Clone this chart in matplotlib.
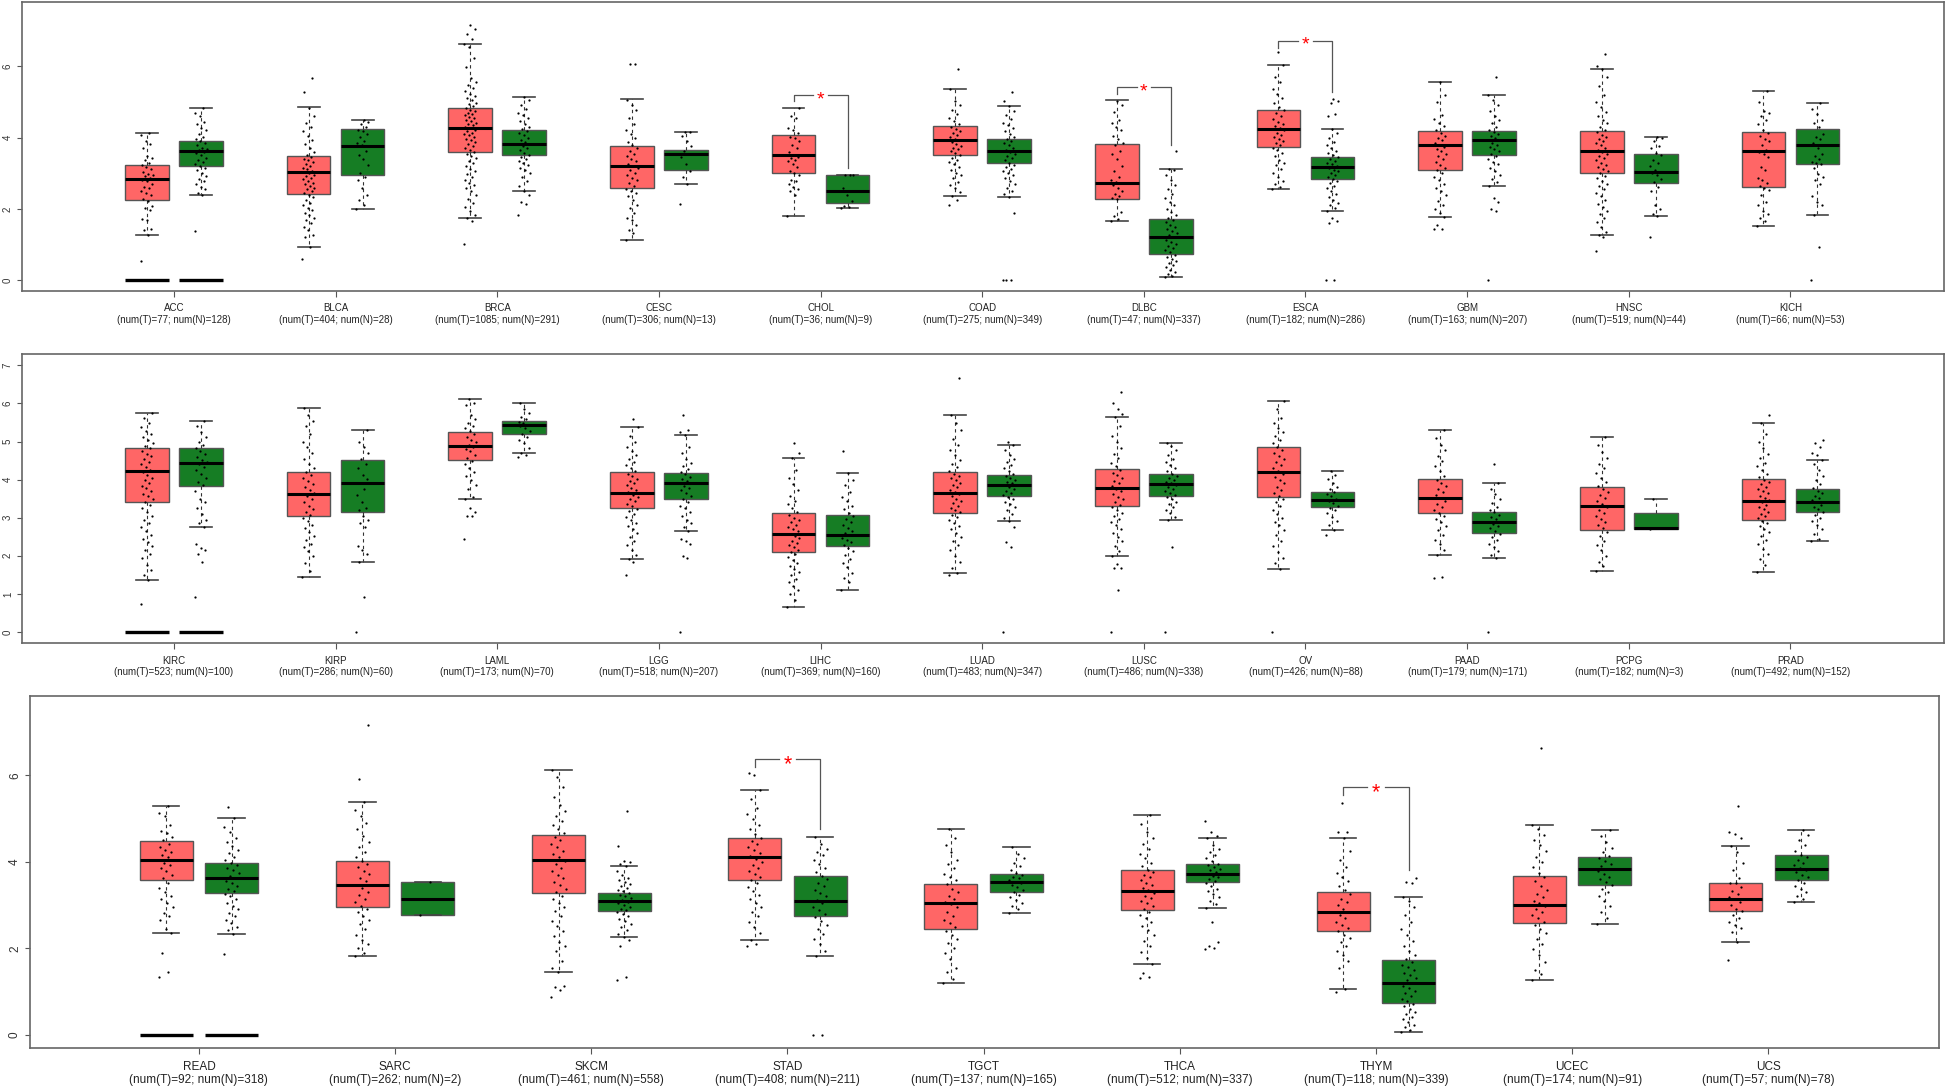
import matplotlib
matplotlib.use("Agg")
import matplotlib.pyplot as plt

plt.rcParams["font.family"] = ["Liberation Sans", "DejaVu Sans"]

# --- panel 1 ---
p1_names = ["ACC", "BLCA", "BRCA", "CESC", "CHOL", "COAD", "DLBC", "ESCA", "GBM", "HNSC", "KICH"]
p1_num_t = [77, 404, 1085, 306, 36, 275, 47, 182, 163, 519, 66]
p1_num_n = [128, 28, 291, 13, 9, 349, 337, 286, 207, 44, 53]
# low whisker, q1, median, q3, high whisker
p1_stats_t = [[1.26, 2.25, 2.84, 3.24, 4.14], [0.94, 2.42, 3.03, 3.47, 4.85], [1.76, 3.59, 4.26, 4.82, 6.63],
              [1.13, 2.59, 3.20, 3.76, 5.08], [1.80, 3.01, 3.50, 4.08, 4.83], [2.35, 3.50, 3.93, 4.33, 5.37],
              [1.67, 2.29, 2.72, 3.81, 5.06], [2.55, 3.74, 4.23, 4.78, 6.04], [1.78, 3.10, 3.79, 4.18, 5.55],
              [1.28, 3.00, 3.61, 4.19, 5.92], [1.51, 2.61, 3.63, 4.16, 5.30]]
p1_stats_n = [[2.39, 3.19, 3.62, 3.90, 4.84], [2.00, 2.96, 3.77, 4.23, 4.50], [2.49, 3.50, 3.82, 4.22, 5.14],
              [2.70, 3.10, 3.54, 3.64, 4.17], [2.03, 2.16, 2.49, 2.95, 2.96], [2.33, 3.30, 3.62, 3.95, 4.89],
              [0.08, 0.74, 1.21, 1.72, 3.12], [1.94, 2.84, 3.17, 3.45, 4.23], [2.65, 3.50, 3.93, 4.19, 5.18],
              [1.79, 2.73, 3.04, 3.54, 4.02], [1.84, 3.25, 3.80, 4.23, 4.98]]
p1_pts_t = {
    "ACC": [0.54, 1.26, 1.42, 1.45, 1.68, 1.72, 1.98, 2.02, 2.08, 2.21, 2.27, 2.38, 2.45, 2.5, 2.58, 2.62, 2.71, 2.78, 2.82, 2.86, 2.91, 2.95, 2.99, 3.04, 3.12, 3.18, 3.22, 3.3, 3.38, 3.44, 3.49, 3.72, 3.83, 3.9, 4.08, 4.12],
    "BLCA": [0.59, 0.94, 1.2, 1.28, 1.42, 1.5, 1.6, 1.68, 1.75, 1.82, 1.9, 1.98, 2.03, 2.1, 2.18, 2.26, 2.33, 2.4, 2.44, 2.5, 2.55, 2.6, 2.64, 2.7, 2.74, 2.79, 2.84, 2.88, 2.92, 2.96, 3.0, 3.03, 3.07, 3.11, 3.16, 3.21, 3.26, 3.31, 3.36, 3.41, 3.46, 3.52, 3.6, 3.72, 3.82, 3.92, 4.05, 4.18, 4.3, 4.42, 4.6, 4.84, 5.28, 5.67],
    "BRCA": [1.03, 1.65, 1.76, 1.82, 1.95, 2.05, 2.18, 2.28, 2.4, 2.5, 2.58, 2.66, 2.74, 2.82, 2.9, 2.98, 3.05, 3.12, 3.2, 3.28, 3.35, 3.42, 3.48, 3.54, 3.6, 3.66, 3.72, 3.77, 3.82, 3.87, 3.92, 3.97, 4.02, 4.06, 4.1, 4.14, 4.18, 4.22, 4.26, 4.3, 4.34, 4.38, 4.42, 4.46, 4.5, 4.54, 4.58, 4.62, 4.66, 4.7, 4.74, 4.78, 4.83, 4.88, 4.93, 4.98, 5.04, 5.1, 5.16, 5.22, 5.3, 5.38, 5.46, 5.55, 5.68, 5.98, 6.22, 6.55, 6.63, 6.75, 6.9, 7.05, 7.15],
    "CESC": [1.13, 1.32, 1.42, 1.55, 1.68, 1.75, 1.9, 2.02, 2.12, 2.25, 2.36, 2.44, 2.5, 2.56, 2.64, 2.72, 2.8, 2.88, 2.95, 3.02, 3.08, 3.14, 3.2, 3.26, 3.33, 3.4, 3.48, 3.55, 3.62, 3.7, 3.78, 3.88, 3.98, 4.1, 4.22, 4.38, 4.56, 4.78, 4.92, 5.06, 6.05, 6.07],
    "CHOL": [1.8, 2.4, 2.5, 2.56, 2.62, 2.7, 2.78, 2.82, 2.95, 3.0, 3.06, 3.17, 3.26, 3.34, 3.38, 3.42, 3.45, 3.52, 3.6, 3.72, 3.8, 3.9, 4.0, 4.03, 4.12, 4.22, 4.28, 4.55, 4.6, 4.83],
    "COAD": [2.12, 2.25, 2.35, 2.48, 2.6, 2.68, 2.76, 2.86, 2.94, 3.02, 3.1, 3.18, 3.26, 3.32, 3.38, 3.44, 3.5, 3.56, 3.62, 3.67, 3.72, 3.77, 3.82, 3.87, 3.92, 3.97, 4.02, 4.07, 4.12, 4.18, 4.24, 4.3, 4.38, 4.46, 4.55, 4.66, 4.78, 4.9, 5.02, 5.37, 5.93],
    "DLBC": [1.67, 1.72, 1.8, 1.92, 2.28, 2.32, 2.36, 2.42, 2.5, 2.6, 2.68, 2.72, 2.76, 2.8, 2.9, 3.05, 3.2, 3.4, 3.55, 3.62, 3.78, 3.85, 3.95, 4.05, 4.2, 4.3, 4.42, 4.5, 4.72, 4.9, 5.03],
    "ESCA": [2.55, 2.62, 2.7, 2.78, 2.9, 3.0, 3.12, 3.22, 3.3, 3.38, 3.48, 3.56, 3.64, 3.72, 3.78, 3.84, 3.9, 3.96, 4.02, 4.08, 4.14, 4.2, 4.26, 4.32, 4.38, 4.44, 4.52, 4.6, 4.68, 4.76, 4.86, 4.96, 5.1, 5.22, 5.36, 5.56, 5.7, 6.04, 6.4],
    "GBM": [1.45, 1.45, 1.55, 1.78, 1.9, 2.0, 2.1, 2.22, 2.4, 2.5, 2.58, 2.7, 2.8, 2.9, 3.0, 3.08, 3.16, 3.24, 3.32, 3.4, 3.48, 3.55, 3.62, 3.68, 3.74, 3.8, 3.86, 3.92, 3.98, 4.04, 4.12, 4.2, 4.32, 4.42, 4.52, 4.62, 5.0, 5.2, 5.55],
    "HNSC": [0.82, 1.2, 1.28, 1.35, 1.5, 1.62, 1.75, 1.85, 1.95, 2.05, 2.15, 2.25, 2.35, 2.45, 2.55, 2.63, 2.71, 2.79, 2.86, 2.93, 3.0, 3.06, 3.12, 3.18, 3.24, 3.3, 3.36, 3.42, 3.48, 3.54, 3.6, 3.66, 3.72, 3.78, 3.84, 3.9, 3.96, 4.02, 4.08, 4.15, 4.22, 4.3, 4.4, 4.5, 4.6, 4.72, 4.85, 5.0, 5.2, 5.45, 5.7, 5.92, 6.0, 6.34],
    "KICH": [1.51, 1.65, 1.75, 1.85, 1.95, 2.1, 2.2, 2.4, 2.52, 2.6, 2.65, 2.72, 2.8, 2.88, 3.1, 3.18, 3.45, 3.55, 3.6, 3.66, 3.8, 3.9, 3.97, 4.05, 4.12, 4.22, 4.38, 4.5, 4.6, 4.68, 4.75, 5.0, 5.3],
}
p1_pts_n = {
    "ACC": [1.37, 2.39, 2.45, 2.55, 2.62, 2.7, 2.78, 2.85, 2.92, 3.0, 3.08, 3.15, 3.2, 3.26, 3.32, 3.38, 3.44, 3.5, 3.56, 3.6, 3.64, 3.68, 3.72, 3.78, 3.84, 3.9, 3.95, 4.02, 4.1, 4.2, 4.28, 4.38, 4.45, 4.6, 4.7, 4.84],
    "BLCA": [2.0, 2.12, 2.25, 2.4, 2.6, 2.8, 2.9, 3.02, 3.24, 3.4, 3.5, 3.62, 3.78, 3.85, 3.9, 4.02, 4.1, 4.18, 4.22, 4.3, 4.38, 4.44, 4.48],
    "BRCA": [1.82, 2.15, 2.2, 2.4, 2.49, 2.65, 2.78, 2.9, 3.0, 3.08, 3.15, 3.22, 3.28, 3.34, 3.4, 3.46, 3.52, 3.58, 3.64, 3.7, 3.76, 3.82, 3.88, 3.94, 4.0, 4.06, 4.12, 4.18, 4.24, 4.3, 4.38, 4.46, 4.54, 4.62, 4.7, 4.8, 4.92, 5.04, 5.14],
    "CESC": [2.14, 2.7, 2.9, 3.05, 3.27, 3.45, 3.55, 3.62, 3.75, 3.9, 4.05, 4.15, 4.17],
    "CHOL": [2.03, 2.05, 2.08, 2.22, 2.4, 2.58, 2.95, 2.96, 2.96],
    "COAD": [0.0, 0.0, 0.0, 1.88, 2.33, 2.42, 2.5, 2.6, 2.7, 2.78, 2.86, 2.94, 3.0, 3.06, 3.12, 3.18, 3.24, 3.3, 3.36, 3.42, 3.48, 3.54, 3.6, 3.66, 3.72, 3.78, 3.84, 3.9, 3.96, 4.02, 4.1, 4.18, 4.26, 4.34, 4.42, 4.52, 4.62, 4.75, 4.89, 5.03, 5.28],
    "DLBC": [0.08, 0.12, 0.18, 0.24, 0.3, 0.36, 0.42, 0.48, 0.54, 0.6, 0.66, 0.72, 0.78, 0.84, 0.9, 0.96, 1.02, 1.08, 1.14, 1.2, 1.26, 1.32, 1.38, 1.44, 1.5, 1.56, 1.62, 1.68, 1.76, 1.84, 1.92, 2.0, 2.1, 2.2, 2.3, 2.42, 2.55, 2.66, 2.8, 2.95, 3.1, 3.12, 3.62],
    "ESCA": [0.0, 0.0, 1.6, 1.65, 1.75, 1.94, 2.02, 2.1, 2.18, 2.26, 2.34, 2.42, 2.5, 2.58, 2.65, 2.72, 2.78, 2.84, 2.9, 2.95, 3.0, 3.05, 3.1, 3.15, 3.2, 3.25, 3.3, 3.35, 3.4, 3.45, 3.5, 3.56, 3.62, 3.7, 3.78, 3.88, 4.0, 4.12, 4.23, 4.6, 4.65, 4.98, 5.03, 5.08],
    "GBM": [0.0, 1.95, 2.0, 2.2, 2.3, 2.65, 2.75, 2.85, 2.95, 3.05, 3.15, 3.25, 3.32, 3.4, 3.48, 3.55, 3.62, 3.68, 3.74, 3.8, 3.86, 3.92, 3.98, 4.04, 4.1, 4.16, 4.22, 4.3, 4.4, 4.5, 4.6, 4.75, 4.9, 5.05, 5.18, 5.7],
    "HNSC": [1.22, 1.79, 1.85, 2.0, 2.1, 2.5, 2.62, 2.75, 2.85, 2.96, 3.0, 3.04, 3.1, 3.2, 3.3, 3.38, 3.5, 3.58, 3.72, 3.76, 3.9, 4.0, 4.02],
    "KICH": [0.0, 0.92, 1.84, 2.1, 2.2, 2.35, 2.7, 2.8, 2.9, 2.98, 3.15, 3.25, 3.28, 3.32, 3.4, 3.48, 3.55, 3.7, 3.85, 3.95, 4.02, 4.1, 4.3, 4.4, 4.5, 4.65, 4.8, 4.98],
}

# --- panel 2 ---
p2_names = ["KIRC", "KIRP", "LAML", "LGG", "LIHC", "LUAD", "LUSC", "OV", "PAAD", "PCPG", "PRAD"]
p2_num_t = [523, 286, 173, 518, 369, 483, 486, 426, 179, 182, 492]
p2_num_n = [100, 60, 70, 207, 160, 347, 338, 88, 171, 3, 152]
p2_stats_t = [[1.36, 3.42, 4.22, 4.82, 5.76], [1.44, 3.05, 3.62, 4.21, 5.87], [3.48, 4.52, 4.89, 5.26, 6.11],
              [1.92, 3.26, 3.65, 4.19, 5.38], [0.66, 2.09, 2.57, 3.12, 4.58], [1.56, 3.12, 3.65, 4.19, 5.70],
              [2.00, 3.30, 3.79, 4.27, 5.65], [1.66, 3.54, 4.20, 4.85, 6.06], [2.01, 3.12, 3.52, 4.02, 5.30],
              [1.59, 2.69, 3.30, 3.80, 5.13], [1.58, 2.94, 3.43, 4.03, 5.50]]
p2_stats_n = [[2.76, 3.84, 4.45, 4.83, 5.54], [1.84, 3.16, 3.90, 4.51, 5.31], [4.69, 5.19, 5.43, 5.55, 6.02],
              [2.65, 3.50, 3.92, 4.18, 5.17], [1.10, 2.26, 2.55, 3.07, 4.18], [2.91, 3.58, 3.86, 4.13, 4.90],
              [2.93, 3.58, 3.88, 4.14, 4.96], [2.67, 3.27, 3.47, 3.68, 4.24], [1.93, 2.60, 2.88, 3.16, 3.91],
              [2.70, 2.70, 2.72, 3.12, 3.50], [2.39, 3.15, 3.42, 3.76, 4.52]]
p2_pts_t = {
    "KIRC": [0.74, 1.36, 1.5, 1.62, 1.75, 1.95, 2.05, 2.15, 2.25, 2.35, 2.45, 2.55, 2.65, 2.75, 2.85, 2.95, 3.05, 3.15, 3.25, 3.33, 3.41, 3.49, 3.56, 3.63, 3.7, 3.77, 3.84, 3.91, 3.98, 4.05, 4.12, 4.19, 4.26, 4.33, 4.4, 4.47, 4.54, 4.61, 4.68, 4.75, 4.82, 4.89, 4.96, 5.04, 5.12, 5.2, 5.28, 5.38, 5.5, 5.62, 5.76],
    "KIRP": [1.44, 1.6, 1.82, 2.0, 2.12, 2.22, 2.32, 2.42, 2.52, 2.62, 2.72, 2.82, 2.92, 3.0, 3.08, 3.16, 3.24, 3.32, 3.4, 3.48, 3.56, 3.64, 3.72, 3.8, 3.88, 3.96, 4.04, 4.12, 4.2, 4.3, 4.42, 4.55, 4.7, 4.85, 5.0, 5.2, 5.4, 5.55, 5.7, 5.87],
    "LAML": [2.45, 3.05, 3.05, 3.15, 3.25, 3.48, 3.55, 3.75, 3.85, 4.0, 4.1, 4.2, 4.3, 4.4, 4.5, 4.58, 4.66, 4.74, 4.8, 4.86, 4.92, 4.98, 5.05, 5.12, 5.2, 5.28, 5.35, 5.42, 5.5, 5.58, 5.7, 5.95, 6.0, 6.11],
    "LGG": [1.5, 1.85, 1.92, 2.02, 2.15, 2.28, 2.4, 2.5, 2.6, 2.7, 2.78, 2.86, 2.94, 3.02, 3.1, 3.17, 3.24, 3.31, 3.37, 3.43, 3.49, 3.55, 3.61, 3.67, 3.73, 3.79, 3.85, 3.91, 3.97, 4.03, 4.09, 4.15, 4.22, 4.3, 4.38, 4.46, 4.55, 4.65, 4.75, 4.85, 5.0, 5.15, 5.38, 5.6],
    "LIHC": [0.66, 0.85, 1.0, 1.1, 1.2, 1.3, 1.4, 1.5, 1.58, 1.66, 1.74, 1.82, 1.9, 1.97, 2.04, 2.1, 2.16, 2.22, 2.28, 2.34, 2.4, 2.46, 2.52, 2.58, 2.64, 2.7, 2.76, 2.82, 2.88, 2.94, 3.0, 3.08, 3.16, 3.25, 3.35, 3.45, 3.58, 3.72, 3.88, 4.05, 4.25, 4.58, 4.7, 4.95],
    "LUAD": [1.5, 1.56, 1.68, 1.85, 2.0, 2.15, 2.28, 2.4, 2.5, 2.6, 2.7, 2.78, 2.86, 2.94, 3.02, 3.08, 3.14, 3.2, 3.26, 3.32, 3.38, 3.44, 3.5, 3.56, 3.62, 3.68, 3.74, 3.8, 3.86, 3.92, 3.98, 4.04, 4.1, 4.16, 4.24, 4.32, 4.42, 4.52, 4.64, 4.78, 4.92, 5.08, 5.3, 5.5, 5.7, 6.68],
    "LUSC": [0.0, 1.11, 1.67, 1.67, 1.78, 2.0, 2.12, 2.25, 2.38, 2.5, 2.6, 2.7, 2.8, 2.88, 2.96, 3.04, 3.12, 3.2, 3.27, 3.34, 3.41, 3.48, 3.55, 3.62, 3.69, 3.76, 3.83, 3.9, 3.97, 4.04, 4.11, 4.18, 4.26, 4.35, 4.45, 4.56, 4.68, 4.82, 4.98, 5.15, 5.4, 5.65, 5.72, 5.85, 6.0, 6.3],
    "OV": [0.0, 1.66, 1.8, 1.95, 2.1, 2.25, 2.4, 2.55, 2.68, 2.8, 2.9, 3.0, 3.1, 3.2, 3.3, 3.4, 3.5, 3.58, 3.66, 3.74, 3.82, 3.9, 3.98, 4.06, 4.14, 4.22, 4.3, 4.38, 4.46, 4.54, 4.62, 4.7, 4.78, 4.86, 4.95, 5.05, 5.15, 5.25, 5.35, 5.5, 5.62, 5.85, 6.06],
    "PAAD": [1.41, 1.44, 2.01, 2.15, 2.3, 2.42, 2.55, 2.68, 2.78, 2.88, 2.96, 3.04, 3.12, 3.2, 3.28, 3.36, 3.44, 3.52, 3.6, 3.68, 3.76, 3.84, 3.92, 4.0, 4.1, 4.22, 4.35, 4.5, 4.62, 4.78, 4.92, 5.1, 5.3],
    "PCPG": [1.59, 1.72, 1.85, 2.0, 2.15, 2.28, 2.4, 2.52, 2.62, 2.72, 2.8, 2.88, 2.96, 3.04, 3.12, 3.2, 3.28, 3.36, 3.44, 3.52, 3.6, 3.68, 3.76, 3.84, 3.95, 4.05, 4.18, 4.3, 4.42, 4.58, 4.72, 4.9, 5.13],
    "PRAD": [1.58, 1.75, 1.92, 2.05, 2.18, 2.3, 2.42, 2.52, 2.62, 2.7, 2.78, 2.85, 2.92, 2.98, 3.04, 3.1, 3.16, 3.22, 3.28, 3.34, 3.4, 3.46, 3.52, 3.58, 3.64, 3.7, 3.76, 3.82, 3.88, 3.94, 4.0, 4.08, 4.16, 4.25, 4.35, 4.45, 4.56, 4.68, 4.82, 5.0, 5.2, 5.5, 5.7],
}
p2_pts_n = {
    "KIRC": [0.92, 1.85, 2.05, 2.15, 2.2, 2.3, 2.76, 2.85, 2.95, 3.1, 3.25, 3.4, 3.5, 3.7, 3.85, 3.95, 4.05, 4.15, 4.25, 4.32, 4.4, 4.46, 4.52, 4.6, 4.68, 4.75, 4.82, 4.9, 5.0, 5.12, 5.25, 5.4, 5.54],
    "KIRP": [0.0, 0.92, 1.84, 2.05, 2.15, 2.25, 2.75, 2.85, 2.95, 3.05, 3.2, 3.25, 3.4, 3.6, 3.75, 3.9, 4.02, 4.12, 4.3, 4.42, 4.55, 4.7, 4.85, 5.0, 5.31],
    "LAML": [4.6, 4.65, 4.69, 4.82, 4.95, 5.05, 5.12, 5.2, 5.28, 5.35, 5.4, 5.44, 5.48, 5.52, 5.58, 5.65, 5.75, 5.85, 6.02],
    "LGG": [0.0, 1.95, 2.0, 2.3, 2.4, 2.45, 2.65, 2.75, 2.85, 2.95, 3.05, 3.15, 3.25, 3.32, 3.4, 3.48, 3.56, 3.64, 3.72, 3.78, 3.84, 3.9, 3.96, 4.02, 4.08, 4.14, 4.2, 4.28, 4.36, 4.45, 4.55, 4.7, 4.85, 5.17, 5.25, 5.3, 5.7],
    "LIHC": [1.1, 1.3, 1.42, 1.55, 1.7, 1.8, 1.92, 2.02, 2.12, 2.2, 2.28, 2.35, 2.42, 2.48, 2.54, 2.6, 2.66, 2.72, 2.8, 2.88, 2.96, 3.04, 3.12, 3.22, 3.32, 3.45, 3.55, 3.68, 3.85, 4.0, 4.18, 4.74],
    "LUAD": [0.0, 2.24, 2.37, 2.75, 2.91, 3.0, 3.1, 3.2, 3.28, 3.35, 3.42, 3.48, 3.54, 3.6, 3.65, 3.7, 3.75, 3.8, 3.85, 3.9, 3.95, 4.0, 4.05, 4.1, 4.16, 4.22, 4.3, 4.38, 4.46, 4.55, 4.65, 4.78, 4.9, 5.0],
    "LUSC": [0.0, 2.23, 2.93, 3.02, 3.12, 3.2, 3.28, 3.35, 3.42, 3.48, 3.54, 3.6, 3.65, 3.7, 3.75, 3.8, 3.85, 3.9, 3.95, 4.0, 4.05, 4.1, 4.16, 4.22, 4.3, 4.38, 4.46, 4.55, 4.65, 4.78, 4.88, 4.96],
    "OV": [2.55, 2.67, 2.8, 2.92, 3.02, 3.12, 3.2, 3.26, 3.32, 3.38, 3.44, 3.5, 3.56, 3.62, 3.68, 3.75, 3.82, 3.92, 4.02, 4.12, 4.24],
    "PAAD": [0.0, 1.93, 2.02, 2.12, 2.22, 2.32, 2.42, 2.5, 2.58, 2.65, 2.72, 2.78, 2.84, 2.9, 2.96, 3.02, 3.08, 3.14, 3.2, 3.28, 3.38, 3.5, 3.62, 3.75, 3.91, 4.41],
    "PCPG": [2.7, 2.72, 3.5],
    "PRAD": [2.39, 2.45, 2.58, 2.7, 2.82, 2.92, 3.0, 3.08, 3.15, 3.22, 3.28, 3.34, 3.4, 3.46, 3.52, 3.58, 3.64, 3.7, 3.78, 3.88, 3.98, 4.1, 4.25, 4.4, 4.52, 4.65, 4.7, 4.85, 4.95, 5.05],
}

# --- panel 3 ---
p3_names = ["READ", "SARC", "SKCM", "STAD", "TGCT", "THCA", "THYM", "UCEC", "UCS"]
p3_num_t = [92, 262, 461, 408, 137, 512, 118, 174, 57]
p3_num_n = [318, 2, 558, 211, 165, 337, 339, 91, 78]
p3_stats_t = [[2.36, 3.59, 4.04, 4.48, 5.29], [1.82, 2.96, 3.47, 4.02, 5.39], [1.45, 3.27, 4.04, 4.62, 6.11],
              [2.19, 3.59, 4.12, 4.54, 5.66], [1.20, 2.44, 3.04, 3.49, 4.75], [1.64, 2.89, 3.33, 3.80, 5.08],
              [1.07, 2.41, 2.85, 3.30, 4.55], [1.26, 2.59, 3.00, 3.67, 4.85], [2.15, 2.87, 3.13, 3.52, 4.37]]
p3_stats_n = [[2.33, 3.27, 3.62, 3.98, 5.02], [2.77, 2.77, 3.15, 3.54, 3.54], [2.26, 2.87, 3.09, 3.29, 3.91],
              [1.83, 2.76, 3.10, 3.67, 4.58], [2.82, 3.30, 3.53, 3.73, 4.34], [2.94, 3.54, 3.72, 3.96, 4.56],
              [0.07, 0.75, 1.21, 1.73, 3.18], [2.56, 3.47, 3.84, 4.12, 4.73], [3.07, 3.58, 3.84, 4.16, 4.73]]
p3_pts_t = {
    "READ": [1.35, 1.46, 1.9, 2.36, 2.45, 2.65, 2.75, 2.82, 2.95, 3.05, 3.15, 3.22, 3.3, 3.4, 3.52, 3.62, 3.7, 3.78, 3.85, 3.92, 3.98, 4.04, 4.1, 4.16, 4.22, 4.28, 4.35, 4.42, 4.5, 4.58, 4.66, 4.72, 4.85, 5.05, 5.12, 5.29],
    "SARC": [1.82, 1.9, 2.0, 2.1, 2.2, 2.32, 2.45, 2.56, 2.66, 2.75, 2.83, 2.91, 2.99, 3.07, 3.15, 3.23, 3.31, 3.39, 3.47, 3.55, 3.63, 3.71, 3.79, 3.87, 3.95, 4.03, 4.12, 4.22, 4.34, 4.46, 4.6, 4.75, 4.9, 5.05, 5.2, 5.39, 5.91, 7.17],
    "SKCM": [0.88, 1.05, 1.12, 1.13, 1.45, 1.55, 1.7, 1.95, 2.05, 2.15, 2.28, 2.4, 2.52, 2.64, 2.76, 2.86, 2.96, 3.05, 3.14, 3.22, 3.3, 3.38, 3.46, 3.54, 3.62, 3.7, 3.78, 3.86, 3.94, 4.02, 4.1, 4.18, 4.26, 4.34, 4.42, 4.5, 4.58, 4.66, 4.75, 4.85, 4.95, 5.05, 5.18, 5.32, 5.5, 5.72, 5.95, 6.11],
    "STAD": [2.05, 2.1, 2.19, 2.35, 2.5, 2.62, 2.74, 2.85, 2.95, 3.05, 3.15, 3.24, 3.33, 3.42, 3.5, 3.57, 3.64, 3.71, 3.78, 3.85, 3.92, 3.99, 4.06, 4.13, 4.2, 4.27, 4.34, 4.41, 4.48, 4.56, 4.65, 4.75, 4.85, 4.98, 5.1, 5.25, 5.45, 5.66, 6.0, 6.05],
    "TGCT": [1.2, 1.3, 1.45, 1.55, 1.75, 1.9, 2.0, 2.12, 2.22, 2.3, 2.4, 2.5, 2.58, 2.65, 2.75, 2.85, 2.95, 3.02, 3.08, 3.15, 3.22, 3.3, 3.38, 3.48, 3.58, 3.65, 3.72, 3.85, 3.95, 4.05, 4.22, 4.38, 4.55, 4.75],
    "THCA": [1.32, 1.35, 1.43, 1.64, 1.78, 1.92, 2.05, 2.18, 2.3, 2.42, 2.52, 2.62, 2.7, 2.78, 2.85, 2.92, 2.98, 3.04, 3.1, 3.16, 3.22, 3.28, 3.34, 3.4, 3.46, 3.52, 3.58, 3.64, 3.7, 3.76, 3.82, 3.9, 3.98, 4.08, 4.18, 4.3, 4.42, 4.55, 4.7, 4.88, 5.08],
    "THYM": [1.0, 1.07, 1.55, 1.7, 1.85, 1.95, 2.05, 2.15, 2.25, 2.32, 2.4, 2.48, 2.55, 2.62, 2.7, 2.78, 2.85, 2.92, 3.0, 3.08, 3.15, 3.25, 3.35, 3.45, 3.55, 3.65, 3.75, 3.88, 4.05, 4.25, 4.55, 4.68, 4.7, 5.37],
    "UCEC": [1.26, 1.4, 1.5, 1.68, 1.85, 1.98, 2.1, 2.22, 2.35, 2.45, 2.55, 2.62, 2.7, 2.78, 2.85, 2.92, 2.98, 3.04, 3.1, 3.18, 3.26, 3.35, 3.45, 3.55, 3.66, 3.75, 3.88, 4.0, 4.12, 4.25, 4.38, 4.5, 4.62, 4.75, 4.85, 6.63],
    "UCS": [1.74, 2.15, 2.38, 2.48, 2.55, 2.62, 2.7, 2.78, 2.86, 2.92, 3.0, 3.08, 3.13, 3.18, 3.25, 3.32, 3.42, 3.5, 3.52, 3.62, 3.8, 3.98, 4.22, 4.37, 4.55, 4.65, 4.7, 5.3],
}
p3_pts_n = {
    "READ": [1.88, 2.33, 2.42, 2.5, 2.58, 2.66, 2.74, 2.82, 2.9, 2.98, 3.06, 3.14, 3.2, 3.26, 3.32, 3.38, 3.44, 3.5, 3.56, 3.62, 3.68, 3.74, 3.8, 3.86, 3.92, 3.98, 4.05, 4.12, 4.2, 4.28, 4.36, 4.45, 4.55, 4.68, 4.8, 5.02, 5.27],
    "SARC": [2.77, 3.54],
    "SKCM": [1.27, 1.33, 2.05, 2.2, 2.26, 2.34, 2.42, 2.5, 2.57, 2.63, 2.69, 2.74, 2.79, 2.84, 2.88, 2.92, 2.96, 3.0, 3.04, 3.08, 3.12, 3.16, 3.2, 3.24, 3.28, 3.32, 3.36, 3.4, 3.44, 3.48, 3.53, 3.58, 3.63, 3.7, 3.78, 3.91, 3.95, 4.0, 4.03, 4.36, 5.17],
    "STAD": [0.0, 0.0, 1.83, 1.95, 2.1, 2.22, 2.34, 2.45, 2.55, 2.64, 2.72, 2.8, 2.88, 2.96, 3.04, 3.12, 3.2, 3.28, 3.36, 3.44, 3.52, 3.6, 3.68, 3.76, 3.85, 3.95, 4.05, 4.15, 4.22, 4.3, 4.42, 4.58],
    "TGCT": [2.82, 2.9, 2.98, 3.05, 3.12, 3.18, 3.24, 3.3, 3.36, 3.42, 3.46, 3.5, 3.54, 3.58, 3.62, 3.66, 3.7, 3.75, 3.82, 3.9, 3.98, 4.08, 4.18, 4.34],
    "THCA": [1.98, 2.0, 2.05, 2.15, 2.6, 2.94, 3.02, 3.1, 3.18, 3.26, 3.32, 3.38, 3.44, 3.5, 3.56, 3.6, 3.64, 3.68, 3.72, 3.76, 3.8, 3.84, 3.88, 3.92, 3.96, 4.02, 4.08, 4.15, 4.22, 4.3, 4.4, 4.56, 4.6, 4.7, 4.95],
    "THYM": [0.07, 0.12, 0.18, 0.24, 0.3, 0.36, 0.42, 0.48, 0.54, 0.6, 0.66, 0.72, 0.78, 0.84, 0.9, 0.96, 1.02, 1.08, 1.14, 1.2, 1.26, 1.32, 1.38, 1.44, 1.5, 1.56, 1.62, 1.68, 1.75, 1.84, 1.94, 2.05, 2.18, 2.3, 2.45, 2.6, 2.78, 2.95, 3.1, 3.18, 3.5, 3.53, 3.63],
    "UCEC": [2.56, 2.7, 2.85, 2.98, 3.1, 3.2, 3.3, 3.38, 3.46, 3.54, 3.6, 3.66, 3.72, 3.78, 3.84, 3.9, 3.96, 4.02, 4.08, 4.14, 4.22, 4.32, 4.45, 4.6, 4.73],
    "UCS": [3.07, 3.15, 3.22, 3.3, 3.38, 3.45, 3.52, 3.58, 3.64, 3.7, 3.76, 3.82, 3.86, 3.92, 3.98, 4.04, 4.1, 4.16, 4.25, 4.38, 4.5, 4.62, 4.73],
}

# flat boxes sitting on zero
zero_boxes = {0: ["ACC"], 1: ["KIRC"], 2: ["READ"]}
# bracket: name, top, left leg end, right leg end
brackets = {0: [("CHOL", 5.19, 5.02, 3.14), ("DLBC", 5.41, 5.22, 3.80), ("ESCA", 6.72, 6.52, 5.27)],
            1: [],
            2: [("STAD", 6.38, 6.20, 4.75), ("THYM", 5.72, 5.54, 3.82)]}

RED = "#ff6666"
GREEN = "#167d24"
W, H = 1946, 1092


def draw_panel(idx, rect, xlim, ylim, yticks, names, num_t, num_n, stats_t, stats_n, pts_t, pts_n, fs):
    l, t, r, b = rect
    ax = fig.add_axes([l / W, 1 - b / H, (r - l) / W, (b - t) / H])
    off, wid, cap, jit = 0.167, 0.27, 0.135, 0.038

    for side, stats, pts, color in [(-1, stats_t, pts_t, RED), (1, stats_n, pts_n, GREEN)]:
        boxes = [{"whislo": s[0], "q1": s[1], "med": s[2], "q3": s[3], "whishi": s[4], "fliers": []} for s in stats]
        pos = [i + side * off for i in range(len(names))]
        ax.bxp(boxes, positions=pos, widths=wid, capwidths=cap, patch_artist=True, showfliers=False,
               boxprops=dict(facecolor=color, edgecolor="#555555", linewidth=1.0),
               medianprops=dict(color="black", linewidth=2.2, solid_capstyle="butt"),
               whiskerprops=dict(color="#333333", linewidth=0.8, linestyle=(0, (3, 3))),
               capprops=dict(color="#444444", linewidth=1.2), manage_ticks=False)
        for i, name in enumerate(names):
            ys = pts[name]
            # fixed low-discrepancy spread for the strip, no randomness
            xs = [i + side * off + jit * (2 * ((k * 0.618034) % 1) - 1) for k in range(len(ys))]
            ax.scatter(xs, ys, s=2.6, color="black", linewidths=0, zorder=4)

    for name in zero_boxes[idx]:
        i = names.index(name)
        for side in (-1, 1):
            ax.plot([i + side * off - wid / 2, i + side * off + wid / 2], [0, 0], color="black", lw=2.4,
                    solid_capstyle="butt", zorder=5)

    for name, top, left_end, right_end in brackets[idx]:
        i = names.index(name)
        x0, x1 = i - off, i + off
        gap = 0.045
        ax.plot([x0, x0, i - gap], [left_end, top, top], color="#555555", lw=0.9, zorder=3)
        ax.plot([i + gap, x1, x1], [top, top, right_end], color="#555555", lw=0.9, zorder=3)
        ax.text(i, top - 0.13, "*", color="red", ha="center", va="center", fontsize=fs + 7)

    ax.set_xlim(*xlim)
    ax.set_ylim(*ylim)
    ax.set_xticks(range(len(names)))
    ax.set_xticklabels([f"{n}\n(num(T)={a}; num(N)={c})" for n, a, c in zip(names, num_t, num_n)],
                       fontsize=fs, color="#222222", linespacing=1.15)
    ax.set_yticks(yticks)
    ax.set_yticklabels([str(v) for v in yticks], rotation=90, va="center", fontsize=fs, color="#333333")
    ax.tick_params(axis="x", length=4.5, width=0.8, color="#555555", pad=4.5)
    ax.tick_params(axis="y", length=3.5, width=0.8, color="#555555", pad=3)
    for sp in ax.spines.values():
        sp.set_color("#666666")
        sp.set_linewidth(1.2)
    return ax


fig = plt.figure(figsize=(W / 100, H / 100), dpi=100, facecolor="white")

draw_panel(0, (22, 2, 1944, 291), (-0.94, 10.95), (-0.30, 7.80), [0, 2, 4, 6],
           p1_names, p1_num_t, p1_num_n, p1_stats_t, p1_stats_n, p1_pts_t, p1_pts_n, 7)
draw_panel(1, (22, 354, 1944, 643), (-0.94, 10.95), (-0.29, 7.30), [0, 1, 2, 3, 4, 5, 6, 7],
           p2_names, p2_num_t, p2_num_n, p2_stats_t, p2_stats_n, p2_pts_t, p2_pts_n, 7)
draw_panel(2, (30, 696, 1939, 1048), (-0.861, 8.87), (-0.30, 7.83), [0, 2, 4, 6],
           p3_names, p3_num_t, p3_num_n, p3_stats_t, p3_stats_n, p3_pts_t, p3_pts_n, 8.5)

fig.savefig("out.png", dpi=100)
